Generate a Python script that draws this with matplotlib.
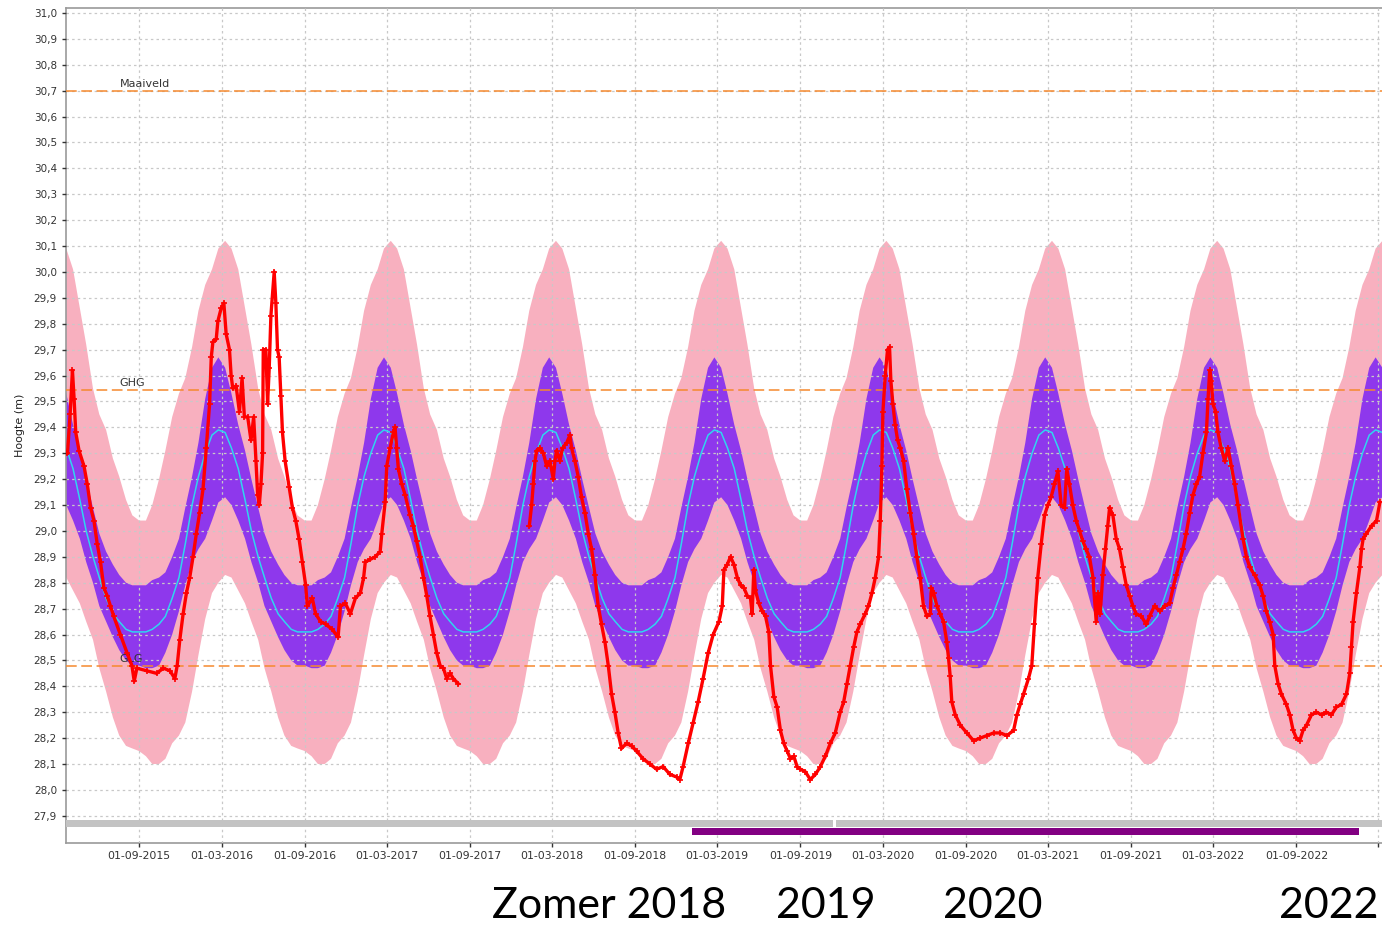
import numpy as np
import matplotlib.pyplot as plt
import matplotlib.dates as mdates
import matplotlib.ticker as mticker
from datetime import datetime, timedelta

# seasonal band profile, days after 1 September (same shape every year)
band_days   = [0, 15, 29, 44, 58, 73, 88, 102, 117, 131, 146, 161, 175,
               190, 204, 219, 234, 248, 263, 277, 292, 307, 321, 336, 350]
pink_upper  = [29.04, 29.04, 29.10, 29.20, 29.31, 29.44, 29.53, 29.59, 29.71, 29.85, 29.95, 30.01, 30.09,
               30.12, 30.09, 30.01, 29.86, 29.72, 29.55, 29.45, 29.39, 29.28, 29.21, 29.12, 29.06]
pink_lower  = [28.15, 28.13, 28.10, 28.10, 28.12, 28.18, 28.21, 28.26, 28.38, 28.52, 28.66, 28.76, 28.80,
               28.83, 28.82, 28.77, 28.72, 28.65, 28.58, 28.47, 28.38, 28.28, 28.21, 28.17, 28.16]
purp_upper  = [28.79, 28.79, 28.81, 28.82, 28.84, 28.90, 28.97, 29.09, 29.21, 29.34, 29.51, 29.63, 29.67,
               29.63, 29.53, 29.41, 29.31, 29.20, 29.09, 28.99, 28.92, 28.87, 28.83, 28.80, 28.79]
purp_lower  = [28.48, 28.47, 28.47, 28.48, 28.53, 28.60, 28.69, 28.79, 28.88, 28.93, 28.97, 29.04, 29.11,
               29.13, 29.10, 29.04, 28.97, 28.88, 28.80, 28.71, 28.65, 28.59, 28.54, 28.50, 28.48]
median      = [28.61, 28.61, 28.62, 28.64, 28.67, 28.74, 28.82, 28.95, 29.10, 29.21, 29.30, 29.37, 29.39,
               29.38, 29.32, 29.24, 29.12, 29.00, 28.90, 28.82, 28.74, 28.68, 28.65, 28.62, 28.61]
band_years  = list(range(2014, 2024))

# measured groundwater level (decimal year, m); nan = gap in the record
red_t = [2015.232, 2015.248, 2015.262, 2015.272, 2015.282, 2015.302, 2015.332, 2015.352, 2015.372, 2015.392,
         2015.412, 2015.432, 2015.452, 2015.472, 2015.492, 2015.512, 2015.552, 2015.592, 2015.622, 2015.636,
         2015.652, 2015.712, 2015.772, 2015.812, 2015.852, 2015.882, 2015.896, 2015.912, 2015.932, 2015.952,
         2015.972, 2015.992, 2016.012, 2016.032, 2016.052, 2016.072, 2016.092, 2016.102, 2016.112, 2016.132,
         2016.142, 2016.162, 2016.178, 2016.192, 2016.212, 2016.222, 2016.232, 2016.252, 2016.272, 2016.288,
         2016.302, 2016.322, 2016.342, 2016.358, 2016.372, 2016.382, 2016.392, 2016.402, 2016.412, 2016.416,
         2016.432, 2016.442, 2016.452, 2016.462, 2016.482, 2016.492, 2016.502, 2016.512, 2016.522, 2016.532,
         2016.548, 2016.572, 2016.592, 2016.612, 2016.632, 2016.652, 2016.672, 2016.682, 2016.712, 2016.732,
         2016.762, 2016.792, 2016.832, 2016.868, 2016.882, 2016.912, 2016.942, 2016.972, 2017.002, 2017.022,
         2017.032, 2017.062, 2017.092, 2017.122, 2017.132, 2017.152, 2017.162, 2017.182, 2017.202, 2017.212,
         2017.222, 2017.232, 2017.253, 2017.273, 2017.303, 2017.323, 2017.343, 2017.364, 2017.384, 2017.404,
         2017.424, 2017.444, 2017.464, 2017.485, 2017.505, 2017.525, 2017.545, 2017.565, 2017.595, 2017.800,
         2018.025, 2018.039, 2018.049, 2018.059, 2018.069, 2018.089, 2018.110, 2018.130, 2018.150, 2018.170,
         2018.180, 2018.190, 2018.210, 2018.226, 2018.251, 2018.271, 2018.281, 2018.301, 2018.321, 2018.341,
         2018.362, 2018.382, 2018.402, 2018.422, 2018.442, 2018.462, 2018.483, 2018.503, 2018.523, 2018.543,
         2018.563, 2018.583, 2018.614, 2018.644, 2018.674, 2018.714, 2018.755, 2018.795, 2018.835, 2018.876,
         2018.916, 2018.936, 2018.956, 2018.987, 2019.017, 2019.047, 2019.077, 2019.108, 2019.138, 2019.173,
         2019.193, 2019.203, 2019.223, 2019.243, 2019.264, 2019.284, 2019.304, 2019.324, 2019.344, 2019.364,
         2019.374, 2019.384, 2019.394, 2019.414, 2019.435, 2019.455, 2019.475, 2019.485, 2019.505, 2019.525,
         2019.545, 2019.565, 2019.586, 2019.606, 2019.626, 2019.646, 2019.666, 2019.696, 2019.726, 2019.757,
         2019.787, 2019.817, 2019.847, 2019.877, 2019.907, 2019.928, 2019.948, 2019.968, 2019.988, 2020.008,
         2020.028, 2020.058, 2020.078, 2020.099, 2020.119, 2020.139, 2020.149, 2020.159, 2020.165, 2020.179,
         2020.193, 2020.205, 2020.213, 2020.225, 2020.239, 2020.254, 2020.270, 2020.290, 2020.310, 2020.330,
         2020.350, 2020.370, 2020.390, 2020.410, 2020.431, 2020.451, 2020.457, 2020.471, 2020.491, 2020.511,
         2020.531, 2020.551, 2020.561, 2020.571, 2020.581, 2020.602, 2020.632, 2020.672, 2020.712, 2020.753,
         2020.793, 2020.833, 2020.873, 2020.914, 2020.954, 2020.974, 2020.994, 2021.014, 2021.044, 2021.064,
         2021.080, 2021.100, 2021.121, 2021.141, 2021.161, 2021.181, 2021.201, 2021.222, 2021.242, 2021.262,
         2021.276, 2021.292, 2021.312, 2021.333, 2021.353, 2021.373, 2021.393, 2021.413, 2021.434, 2021.454,
         2021.464, 2021.478, 2021.494, 2021.510, 2021.525, 2021.535, 2021.555, 2021.575, 2021.595, 2021.615,
         2021.636, 2021.656, 2021.676, 2021.696, 2021.727, 2021.757, 2021.777, 2021.807, 2021.838, 2021.868,
         2021.898, 2021.919, 2021.939, 2021.959, 2021.979, 2021.999, 2022.020, 2022.040, 2022.060, 2022.080,
         2022.100, 2022.121, 2022.131, 2022.141, 2022.151, 2022.161, 2022.177, 2022.191, 2022.211, 2022.232,
         2022.252, 2022.272, 2022.292, 2022.312, 2022.343, 2022.363, 2022.383, 2022.413, 2022.444, 2022.464,
         2022.484, 2022.504, 2022.525, 2022.535, 2022.555, 2022.575, 2022.605, 2022.626, 2022.646, 2022.666,
         2022.686, 2022.706, 2022.727, 2022.757, 2022.787, 2022.818, 2022.848, 2022.878, 2022.908, 2022.939,
         2022.969, 2022.989, 2022.999, 2023.009, 2023.029, 2023.050, 2023.060, 2023.070, 2023.090, 2023.121,
         2023.151, 2023.171]
red_h = [29.30, 29.45, 29.62, 29.51, 29.38, 29.31, 29.25, 29.18, 29.09, 29.04,
         28.95, 28.88, 28.78, 28.75, 28.71, 28.67, 28.60, 28.53, 28.48, 28.42,
         28.47, 28.46, 28.45, 28.47, 28.46, 28.43, 28.48, 28.58, 28.68, 28.76,
         28.82, 28.90, 28.99, 29.07, 29.16, 29.32, 29.49, 29.67, 29.73, 29.74,
         29.81, 29.86, 29.88, 29.76, 29.70, 29.60, 29.55, 29.56, 29.46, 29.59,
         29.44, 29.44, 29.35, 29.44, 29.27, 29.14, 29.10, 29.18, 29.30, 29.70,
         29.70, 29.49, 29.63, 29.83, 30.00, 29.88, 29.70, 29.67, 29.52, 29.38,
         29.27, 29.17, 29.09, 29.04, 28.97, 28.88, 28.79, 28.71, 28.74, 28.68,
         28.65, 28.64, 28.62, 28.59, 28.71, 28.72, 28.68, 28.74, 28.76, 28.82,
         28.88, 28.89, 28.90, 28.92, 28.99, 29.11, 29.25, 29.32, 29.38, 29.40,
         29.32, 29.24, 29.18, 29.14, 29.06, 29.02, 28.96, 28.90, 28.82, 28.75,
         28.67, 28.60, 28.53, 28.48, 28.47, 28.43, 28.45, 28.43, 28.41, np.nan,
         29.02, 29.10, 29.18, 29.27, 29.31, 29.32, 29.30, 29.25, 29.27, 29.20,
         29.27, 29.31, 29.27, 29.32, 29.34, 29.37, 29.32, 29.27, 29.21, 29.13,
         29.07, 28.99, 28.93, 28.83, 28.71, 28.64, 28.57, 28.48, 28.37, 28.30,
         28.22, 28.16, 28.18, 28.17, 28.15, 28.12, 28.10, 28.08, 28.09, 28.06,
         28.05, 28.04, 28.09, 28.18, 28.26, 28.34, 28.43, 28.53, 28.60, 28.65,
         28.71, 28.85, 28.87, 28.90, 28.87, 28.82, 28.79, 28.78, 28.75, 28.74,
         28.68, 28.85, 28.77, 28.72, 28.69, 28.67, 28.61, 28.48, 28.36, 28.32,
         28.23, 28.18, 28.15, 28.12, 28.13, 28.09, 28.08, 28.07, 28.04, 28.06,
         28.09, 28.13, 28.18, 28.22, 28.30, 28.34, 28.41, 28.48, 28.55, 28.61,
         28.64, 28.68, 28.71, 28.76, 28.82, 28.90, 29.04, 29.25, 29.46, 29.60,
         29.70, 29.71, 29.58, 29.49, 29.41, 29.35, 29.32, 29.27, 29.16, 29.07,
         28.99, 28.90, 28.82, 28.71, 28.67, 28.68, 28.78, 28.76, 28.71, 28.68,
         28.65, 28.57, 28.51, 28.44, 28.34, 28.29, 28.25, 28.22, 28.19, 28.20,
         28.21, 28.22, 28.22, 28.21, 28.23, 28.29, 28.33, 28.37, 28.43, 28.48,
         28.64, 28.82, 28.95, 29.06, 29.10, 29.13, 29.18, 29.23, 29.10, 29.09,
         29.24, 29.18, 29.10, 29.04, 29.00, 28.96, 28.93, 28.90, 28.82, 28.65,
         28.76, 28.68, 28.83, 28.93, 29.02, 29.09, 29.06, 28.97, 28.93, 28.86,
         28.79, 28.75, 28.71, 28.68, 28.67, 28.64, 28.67, 28.71, 28.69, 28.71,
         28.72, 28.78, 28.83, 28.88, 28.93, 28.99, 29.07, 29.14, 29.18, 29.21,
         29.30, 29.38, 29.51, 29.62, 29.58, 29.49, 29.46, 29.38, 29.32, 29.27,
         29.32, 29.25, 29.18, 29.10, 28.97, 28.90, 28.86, 28.83, 28.79, 28.75,
         28.69, 28.65, 28.60, 28.48, 28.41, 28.37, 28.33, 28.29, 28.23, 28.20,
         28.19, 28.23, 28.25, 28.29, 28.30, 28.29, 28.30, 28.29, 28.32, 28.33,
         28.37, 28.45, 28.55, 28.65, 28.76, 28.86, 28.93, 28.97, 28.99, 29.02,
         29.04, 29.11]

maaiveld = 30.70
ghg = 29.545
glg = 28.48
ref_labels = ['Maaiveld', 'GHG', 'GLG']

tick_dates = ['2015-09-01', '2016-03-01', '2016-09-01', '2017-03-01', '2017-09-01', '2018-03-01',
              '2018-09-01', '2019-03-01', '2019-09-01', '2020-03-01', '2020-09-01', '2021-03-01',
              '2021-09-01', '2022-03-01', '2022-09-01', '2023-03-01']


def dec2date(t):
    y = int(t)
    start = datetime(y, 1, 1)
    return start + timedelta(days=(t - y) * (datetime(y + 1, 1, 1) - start).days)


# tile the yearly band profile
bx, pu, pl, vu, vl, md = [], [], [], [], [], []
for yr in band_years:
    for i, d in enumerate(band_days):
        bx.append(datetime(yr, 9, 1) + timedelta(days=d))
        pu.append(pink_upper[i]); pl.append(pink_lower[i])
        vu.append(purp_upper[i]); vl.append(purp_lower[i])
        md.append(median[i])

red_dates = [dec2date(t) for t in red_t]

fig = plt.figure(figsize=(13.82, 9.27), dpi=100)
ax = fig.add_axes([66 / 1382, 1 - 843 / 927, 1 - 66 / 1382, 835 / 927])

ax.fill_between(bx, pl, pu, color='#f8b0bf', lw=0, zorder=1)
ax.fill_between(bx, vl, vu, color='#8e38ec', lw=0, zorder=2)
ax.plot(bx, md, color='#2fd6ef', lw=1.1, zorder=3)

for lvl, lab in zip([maaiveld, ghg, glg], ref_labels):
    ax.axhline(lvl, color='#f5892e', lw=1.1, dashes=(7, 3), zorder=4)
    ax.text(datetime(2015, 7, 20), lvl + 0.008, lab, fontsize=8, color='#333333',
            ha='left', va='bottom', zorder=5)

ax.plot(red_dates, red_h, color='#ff0000', lw=2.4, marker='+', ms=5, mew=1.2, zorder=6)

# data availability bars at the bottom
x0, x1 = dec2date(2015.223), dec2date(2023.184)
g0, g1 = datetime(2019, 11, 12), datetime(2019, 11, 18)
n = mdates.date2num
ax.broken_barh([(n(x0), n(g0) - n(x0)), (n(g1), n(x1) - n(g1))], (27.858, 0.027),
               color='#c3c3c3', lw=0, zorder=5)
ax.broken_barh([(n(datetime(2019, 1, 4)), n(datetime(2023, 1, 17)) - n(datetime(2019, 1, 4)))],
               (27.827, 0.027), color='#820082', lw=0, zorder=5)

ax.set_xlim(x0, x1)
ax.set_ylim(27.795, 31.019)

ax.yaxis.set_major_locator(mticker.FixedLocator(np.round(np.arange(27.9, 31.05, 0.1), 1)))
ax.yaxis.set_major_formatter(mticker.FuncFormatter(lambda v, p: f'{v:.1f}'.replace('.', ',')))
ticks = [datetime.strptime(d, '%Y-%m-%d') for d in tick_dates]
ax.set_xticks(ticks)
ax.set_xticklabels([t.strftime('%d-%m-%Y') for t in ticks[:-1]] + [''])

ax.tick_params(labelsize=7.5, colors='#333333', length=3, width=1)
ax.tick_params(axis='x', pad=2.5, labelsize=7.8)
ax.grid(True, color='#c8c8c8', linestyle=(0, (2, 2.5)), lw=0.9, zorder=0)
ax.set_axisbelow(False)
for s in ['top', 'left', 'bottom']:
    ax.spines[s].set_color('#9a9a9a')
    ax.spines[s].set_linewidth(1.2)
ax.spines['right'].set_visible(False)

ax.set_ylabel('Hoogte (m)', fontsize=8, color='#222222', labelpad=6)

for txt, cx in [('Zomer 2018', 609), ('2019', 826), ('2020', 993), ('2022', 1329)]:
    fig.text(cx / 1382, 1 - 906 / 927, txt, fontsize=31, family='Lato',
             ha='center', va='center', color='black')

fig.savefig('out.png', dpi=100)
